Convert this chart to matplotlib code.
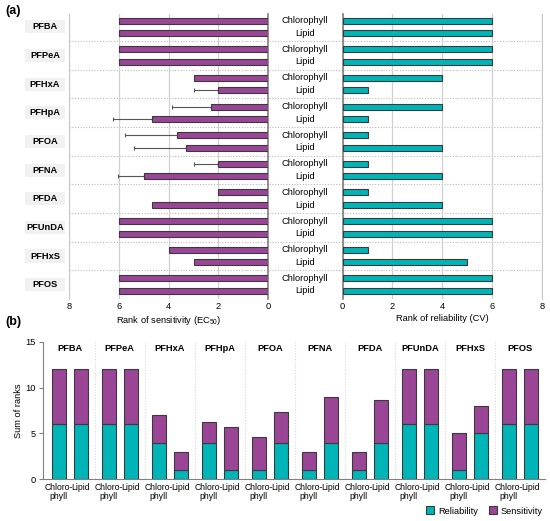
import numpy as np
import matplotlib.pyplot as plt
from matplotlib.patches import Rectangle, Patch
import matplotlib.transforms as mtransforms

plt.rcParams['font.family'] = ['Liberation Sans', 'DejaVu Sans']
plt.rcParams['mathtext.fontset'] = 'custom'
plt.rcParams['mathtext.rm'] = 'Liberation Sans'

compounds = ['PFBA', 'PFPeA', 'PFHxA', 'PFHpA', 'PFOA', 'PFNA', 'PFDA', 'PFUnDA', 'PFHxS', 'PFOS']

# rank of sensitivity (EC50)
sens_chl = [6, 6, 3, 2.3, 3.65, 2, 2, 6, 4, 6]
sens_lip = [6, 6, 2, 4.65, 3.3, 5, 4.65, 6, 3, 6]
sens_chl_err = [0, 0, 0, 1.55, 2.1, 1.0, 0, 0, 0, 0]
sens_lip_err = [0, 0, 1.0, 1.58, 2.1, 1.05, 0, 0, 0, 0]

# rank of reliability (CV)
rel_chl = [6, 6, 4, 4, 1, 1, 1, 6, 1, 6]
rel_lip = [6, 6, 1, 1, 4, 4, 4, 6, 5, 6]

purple = '#9a4596'
teal = '#00b5b8'
edge = '#3a3a3a'
grid_c = '#d0d0d0'
fs = 6.7
W, H = 550, 521

fig = plt.figure(figsize=(5.5, 5.21), dpi=100)


def px_axes(x0, y0, x1, y1, **kw):
    return fig.add_axes([x0 / W, 1 - y1 / H, (x1 - x0) / W, (y1 - y0) / H], **kw)


n = len(compounds)
yc = np.arange(n)
off = 0.22
bh = 0.21
ylim = (9.5, -0.45)

# background axes for separators and centre labels
axbg = px_axes(69, 14, 541.7, 299)
axbg.set_xlim(0, 1)
axbg.set_ylim(*ylim)
axbg.axis('off')
for i in range(n - 1):
    axbg.axhline(i + 0.5, color='#b8b8b8', lw=0.8, ls=(0, (1, 1.5)))
cx = (305 - 69) / (541.7 - 69)
for i in range(n):
    axbg.text(cx, i - off, 'Chlorophyll', ha='center', va='center', fontsize=fs)
    axbg.text(cx, i + off, 'Lipid', ha='center', va='center', fontsize=fs)

# (a) left: sensitivity
axl = px_axes(69, 14, 268.3, 299)
axl.patch.set_alpha(0)
axl.barh(yc - off, sens_chl, height=bh, color=purple, edgecolor=edge, lw=0.8, zorder=3)
axl.barh(yc + off, sens_lip, height=bh, color=purple, edgecolor=edge, lw=0.8, zorder=3)
for i in range(n):
    if sens_chl_err[i] > 0:
        axl.errorbar(sens_chl[i], yc[i] - off, xerr=[[0], [sens_chl_err[i]]], fmt='none',
                     ecolor='#555555', elinewidth=0.8, capsize=1.5, capthick=0.8, zorder=2)
    if sens_lip_err[i] > 0:
        axl.errorbar(sens_lip[i], yc[i] + off, xerr=[[0], [sens_lip_err[i]]], fmt='none',
                     ecolor='#555555', elinewidth=0.8, capsize=1.5, capthick=0.8, zorder=2)
axl.set_xlim(8, 0)
axl.set_ylim(*ylim)
axl.set_xticks([8, 6, 4, 2, 0])
axl.set_yticks([])
axl.grid(axis='x', color=grid_c, lw=0.9, zorder=0)
for s in ['top', 'bottom']:
    axl.spines[s].set_visible(False)
axl.spines['left'].set_color('#c8c8c8')
axl.spines['right'].set_color('#808080')
axl.spines['right'].set_linewidth(1.2)
axl.tick_params(axis='x', length=0, labelsize=fs, pad=2)
axl.set_xlabel('Rank of sensitivity (EC$_{50}$)', fontsize=fs, labelpad=2)

trans = mtransforms.blended_transform_factory(axl.transAxes, axl.transData)
bx0 = (25 - 69) / 199.3
bw = 40 / 199.3
for i, c in enumerate(compounds):
    axl.add_patch(Rectangle((bx0, i - 0.23), bw, 0.46, transform=trans, facecolor='#f1f1f1',
                            edgecolor='none', clip_on=False))
    axl.text(bx0 + bw / 2, i, c, transform=trans, ha='center', va='center',
             fontsize=fs, fontweight='bold')

# (a) right: reliability
axr = px_axes(342.7, 14, 541.7, 299)
axr.patch.set_alpha(0)
axr.barh(yc - off, rel_chl, height=bh, color=teal, edgecolor=edge, lw=0.8, zorder=3)
axr.barh(yc + off, rel_lip, height=bh, color=teal, edgecolor=edge, lw=0.8, zorder=3)
axr.set_xlim(0, 8)
axr.set_ylim(*ylim)
axr.set_xticks([0, 2, 4, 6, 8])
axr.set_yticks([])
axr.grid(axis='x', color=grid_c, lw=0.9, zorder=0)
for s in ['top', 'bottom']:
    axr.spines[s].set_visible(False)
axr.spines['right'].set_color('#c8c8c8')
axr.spines['left'].set_color('#808080')
axr.spines['left'].set_linewidth(1.2)
axr.tick_params(axis='x', length=0, labelsize=fs, pad=2)
axr.set_xlabel('Rank of reliability (CV)', fontsize=fs, labelpad=2)

# (b) sum of ranks
axb = px_axes(43, 341.7, 545, 479.3)
xc = np.arange(n)
bw_b = 0.28
xo = 0.22
axb.bar(xc - xo, rel_chl, width=bw_b, color=teal, edgecolor=edge, lw=0.8, zorder=3)
axb.bar(xc - xo, sens_chl, width=bw_b, bottom=rel_chl, color=purple, edgecolor=edge, lw=0.8, zorder=3)
axb.bar(xc + xo, rel_lip, width=bw_b, color=teal, edgecolor=edge, lw=0.8, zorder=3)
axb.bar(xc + xo, sens_lip, width=bw_b, bottom=rel_lip, color=purple, edgecolor=edge, lw=0.8, zorder=3)
for i in range(n - 1):
    axb.axvline(i + 0.5, color='#d8d8d8', lw=0.8, ls=(0, (1, 1.5)), zorder=0)
for i, c in enumerate(compounds):
    axb.text(i, 14.3, c, ha='center', va='center', fontsize=fs, fontweight='bold')
axb.set_xlim(-0.53, 9.5)
axb.set_ylim(0, 15)
axb.set_yticks([0, 5, 10, 15])
ticks = np.ravel(np.column_stack([xc - xo, xc + xo]))
axb.set_xticks(ticks)
axb.set_xticklabels(['Chloro-\nphyll', 'Lipid'] * n, fontsize=6.2, linespacing=1.0)
axb.tick_params(axis='x', length=0, pad=3)
axb.tick_params(axis='y', labelsize=fs, length=3, color='#808080', pad=2)
for s in ['top', 'right']:
    axb.spines[s].set_visible(False)
axb.spines['left'].set_color('#808080')
axb.spines['bottom'].set_color('#808080')
axb.set_ylabel('Sum of ranks', fontsize=fs, labelpad=2)

handles = [Patch(facecolor=teal, edgecolor=edge, lw=0.8, label='Reliability'),
           Patch(facecolor=purple, edgecolor=edge, lw=0.8, label='Sensitivity')]
fig.legend(handles=handles, loc='center right', bbox_to_anchor=(543 / W, 1 - 511 / H),
           ncol=2, frameon=False, fontsize=fs, handlelength=0.9, handleheight=0.9,
           columnspacing=1.2, handletextpad=0.4, borderpad=0, borderaxespad=0)

fig.text(5 / W, 1 - 11 / H, '(a)', fontsize=9, fontweight='bold', va='center')
fig.text(5 / W, 1 - 322 / H, '(b)', fontsize=9, fontweight='bold', va='center')

plt.savefig('out.png', dpi=100)
